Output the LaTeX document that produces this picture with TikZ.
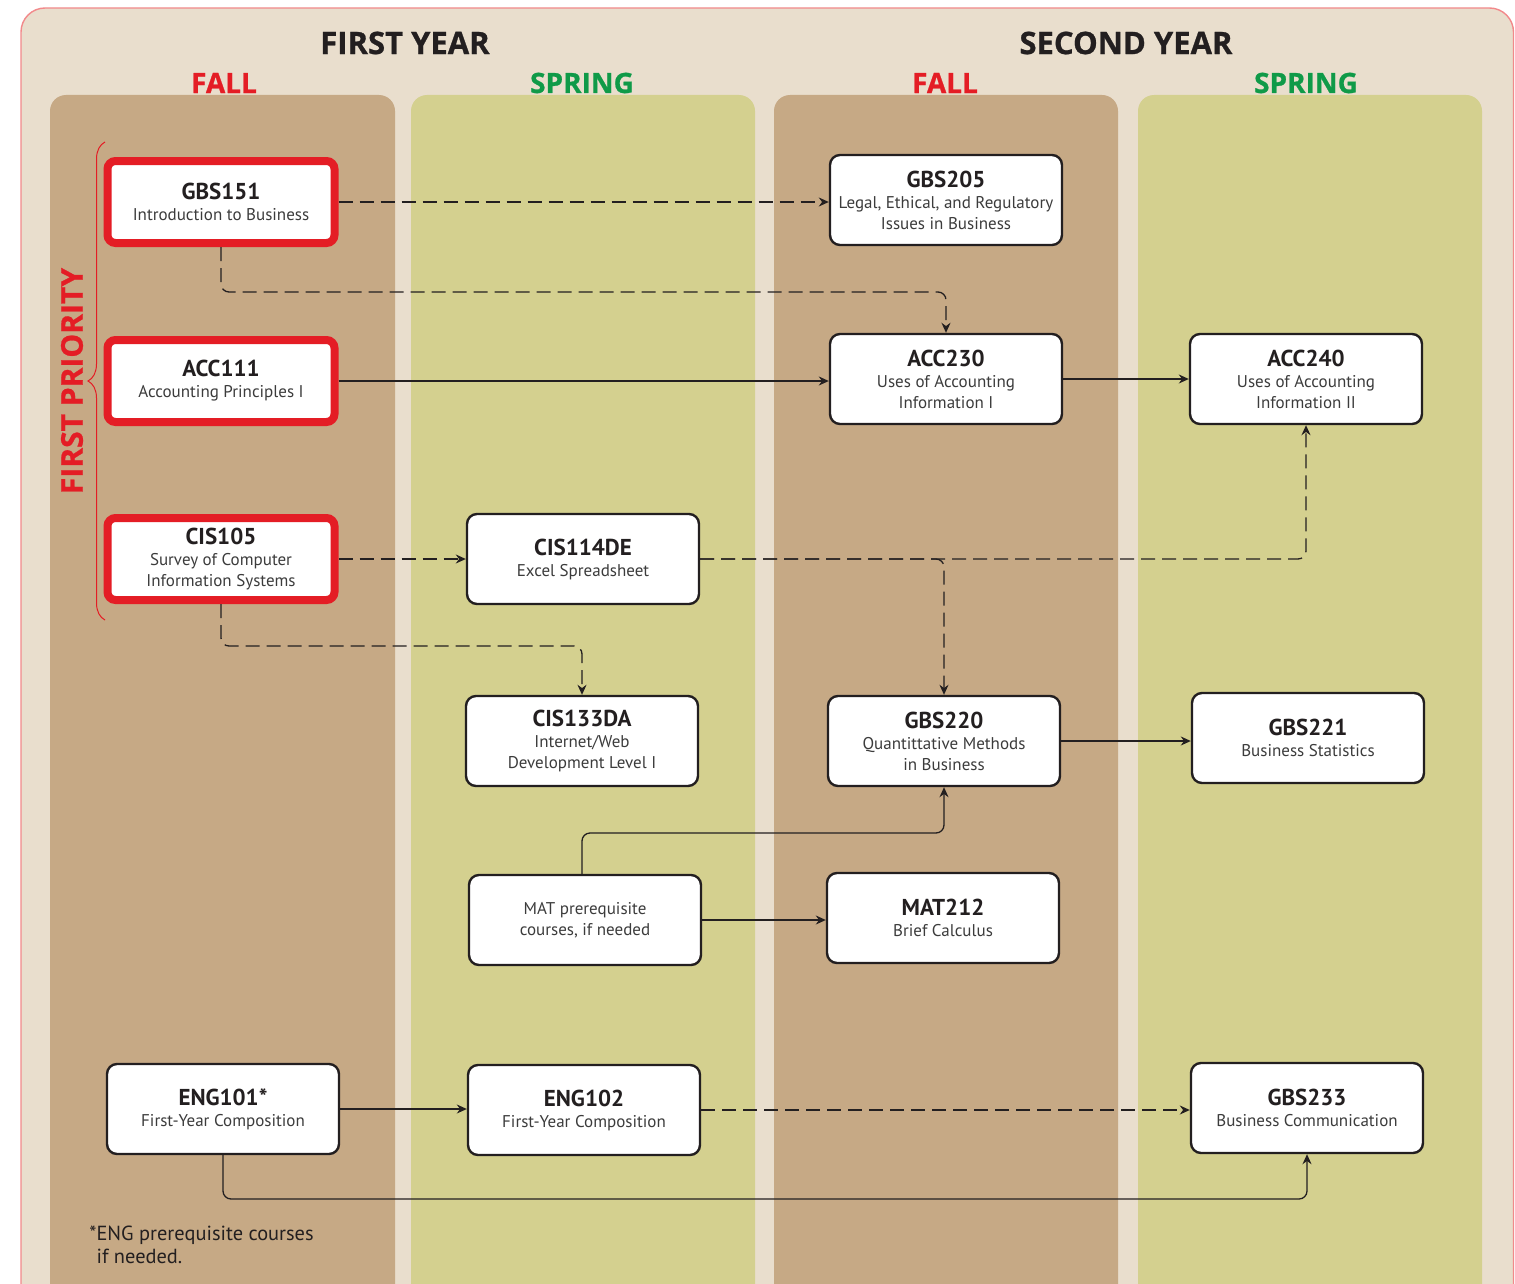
\documentclass[tikz,border=0pt]{standalone}
\usepackage{fontspec}
\setmainfont{PT Sans}
\newfontfamily\headfont{Open Sans}[BoldFeatures={FakeBold=0.8}]
\usetikzlibrary{arrows.meta,decorations.pathreplacing}
\definecolor{bg}{HTML}{E9DECD}
\definecolor{brownc}{HTML}{C6A985}
\definecolor{greenc}{HTML}{D4D08F}
\definecolor{redc}{HTML}{E41D25}
\definecolor{greent}{HTML}{0F9A48}
\definecolor{outlinec}{HTML}{F2898B}
\definecolor{ink}{HTML}{231F20}
\definecolor{subink}{HTML}{3C3C3C}
\newcommand{\ct}[1]{{\fontsize{11.5}{12}\selectfont\bfseries\color{ink}#1}}
\newcommand{\subf}{\fontsize{8.5}{10.5}\selectfont}
\begin{document}
\begin{tikzpicture}[x=0.5pt,y=-0.5pt,
  course/.style={draw=ink, line width=1.2pt, fill=white, rounded corners=5pt,
    minimum width=116pt, minimum height=45pt, inner sep=0pt, align=center,
    font=\subf, text=subink},
  priority/.style={course, draw=redc, line width=4pt, minimum width=113.5pt,
    minimum height=41pt, rounded corners=4pt},
  link/.style={draw=ink, line width=0.65pt, -{Stealth[length=5pt,width=4.5pt]}, rounded corners=4pt},
  dlink/.style={link, dash pattern=on 7pt off 3.5pt},
  yearhead/.style={font=\headfont\fontsize{15.5}{15.5}\selectfont\bfseries, text=ink},
  semhead/.style={font=\headfont\fontsize{14}{14}\selectfont\bfseries},
  column/.style={rounded corners=8pt}]
\useasboundingbox (0,0) rectangle (1515,1284);
\clip (0,0) rectangle (1515,1284);
% background
\draw[outlinec, fill=bg, line width=0.7pt, rounded corners=12pt] (21,8) rectangle (1513.5,1340);
\fill[brownc, column] (50,95) rectangle (395,1330);
\fill[greenc, column] (411,95) rectangle (755,1330);
\fill[brownc, column] (774,95) rectangle (1118,1330);
\fill[greenc, column] (1138,95) rectangle (1482,1330);
% headers
\node[yearhead] (fy) at (405,43) {FIRST YEAR};
\node[yearhead] (sy) at (1126,43) {SECOND YEAR};
\node[semhead, text=redc] (f1) at (224,83) {FALL};
\node[semhead, text=greent] (s1) at (582,83) {SPRING};
\node[semhead, text=redc] (f2) at (945,83) {FALL};
\node[semhead, text=greent] (s2) at (1306,83) {SPRING};
% priority brace
\coordinate (brb) at (105,620);
\coordinate (brt) at (105,142);
\draw[redc, line width=0.5pt, decorate, decoration={brace, amplitude=8.5pt}] (brb) -- (brt);
\node[rotate=90, font=\headfont\fontsize{15}{15}\selectfont\bfseries, text=redc] (fp) at (72,381) {FIRST PRIORITY};
% courses
\node[priority] (gbs151) at (221,202) {\ct{GBS151}\\Introduction to Business};
\node[priority] (acc111) at (221,381) {\ct{ACC111}\\Accounting Principles I};
\node[priority] (cis105) at (221,559) {\ct{CIS105}\\Survey of Computer\\Information Systems};
\node[course] (gbs205) at (946,200) {\ct{GBS205}\\Legal, Ethical, and Regulatory\\Issues in Business};
\node[course] (acc230) at (946,379) {\ct{ACC230}\\Uses of Accounting\\Information I};
\node[course] (acc240) at (1306,379) {\ct{ACC240}\\Uses of Accounting\\Information II};
\node[course] (cis114) at (583,559) {\ct{CIS114DE}\\Excel Spreadsheet};
\node[course] (cis133) at (582,741) {\ct{CIS133DA}\\Internet/Web\\Development Level I};
\node[course] (gbs220) at (944,741) {\ct{GBS220}\\Quantittative Methods\\in Business};
\node[course] (gbs221) at (1308,738) {\ct{GBS221}\\Business Statistics};
\node[course] (matpre) at (585,920) {MAT prerequisite\\courses, if needed};
\node[course] (mat212) at (943,918) {\ct{MAT212}\\Brief Calculus};
\node[course] (eng101) at (223,1109) {\ct{ENG101*}\\First-Year Composition};
\node[course] (eng102) at (584,1110) {\ct{ENG102}\\First-Year Composition};
\node[course] (gbs233) at (1307,1108) {\ct{GBS233}\\Business Communication};
% footnote
\node[anchor=north west, align=left, inner sep=0pt, font=\fontsize{10.2}{11.7}\selectfont, text=ink] (note) at (89,1225)
  {*ENG prerequisite courses\\\hphantom{*}if needed.};
% connectors
\draw[dlink] (gbs151.east) -- (gbs151.east -| gbs205.west);
\draw[dlink] (gbs151.south) -- (gbs151.south |- 0,292) -| (acc230.north);
\draw[link] (acc111.east) -- (acc111.east -| acc230.west);
\draw[link] (acc230.east) -- (acc230.east -| acc240.west);
\draw[dlink] (cis105.east) -- (cis105.east -| cis114.west);
\draw[dlink] (cis114.east) -| (acc240.south);
\draw[dlink] (cis114.east) -| (gbs220.north);
\draw[dlink] (cis105.south) -- (cis105.south |- 0,646) -| (cis133.north);
\draw[link] (gbs220.east) -- (gbs220.east -| gbs221.west);
\draw[link] ([xshift=-1.5pt]matpre.north) -- ([xshift=-1.5pt]matpre.north |- 0,833) -| (gbs220.south);
\draw[link] (matpre.east) -- (matpre.east -| mat212.west);
\draw[link] (eng101.east) -- (eng101.east -| eng102.west);
\draw[dlink] (eng102.east) -- (eng102.east -| gbs233.west);
\draw[link] (eng101.south) -- (eng101.south |- 0,1199) -| (gbs233.south);
\end{tikzpicture}
\end{document}
